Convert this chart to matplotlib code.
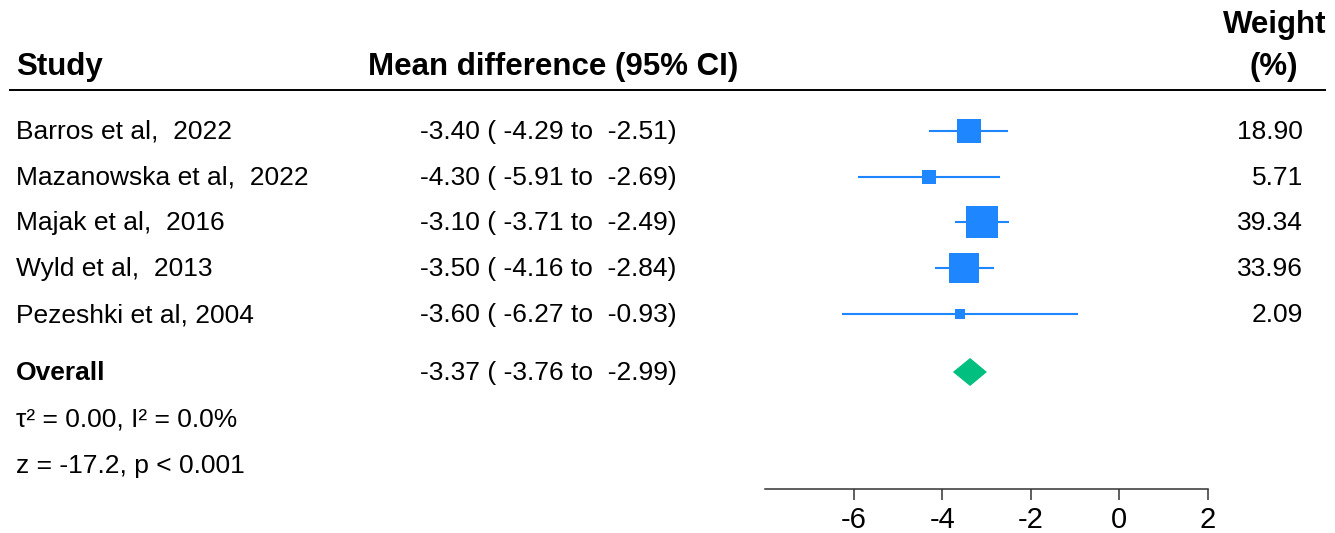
import numpy as np
import matplotlib
matplotlib.use("Agg")
import matplotlib.pyplot as plt
import matplotlib.transforms as mtransforms
from matplotlib.patches import Polygon

plt.rcParams['font.family'] = ['Liberation Sans', 'DejaVu Sans']

# study data
studies = ["Barros et al,  2022", "Mazanowska et al,  2022", "Majak et al,  2016",
           "Wyld et al,  2013", "Pezeshki et al, 2004"]
est = [-3.40, -4.30, -3.10, -3.50, -3.60]
lo = [-4.29, -5.91, -3.71, -4.16, -6.27]
hi = [-2.51, -2.69, -2.49, -2.84, -0.93]
weights = [18.90, 5.71, 39.34, 33.96, 2.09]

# pooled estimate
overall_est, overall_lo, overall_hi = -3.37, -3.76, -2.99
het_text = "τ² = 0.00, I² = 0.0%"
z_text = "z = -17.2, p < 0.001"
xticks = [-6, -4, -2, 0, 2]

W, H = 1335, 533
fig = plt.figure(figsize=(W / 100, H / 100), dpi=100)

# forest panel: x from -8 to 2 between px 765 and 1208, y rows
ax = fig.add_axes([765 / W, 1 - 489 / H, (1208 - 765) / W, (489 - 100) / H])
row_px = 45.75
ax.set_xlim(-8, 2)
ax.set_ylim((489 - 131) / row_px, (100 - 131) / row_px)

rows = np.arange(len(studies))
overall_row = (372 - 131) / row_px
het_row = (419 - 131) / row_px
z_row = (465 - 131) / row_px

blue = '#1E86FF'
green = '#00BF7F'

for r, e, l, h, w in zip(rows, est, lo, hi, weights):
    ax.plot([l, h], [r, r], color=blue, lw=1.5, solid_capstyle='butt')
    side_px = 3.4 + 4.56 * np.sqrt(w)
    ax.plot(e, r, marker='s', color=blue, markersize=side_px * 0.72, markeredgewidth=0)

dh = 14 / row_px
diamond = Polygon([[overall_lo, overall_row], [overall_est, overall_row - dh],
                   [overall_hi, overall_row], [overall_est, overall_row + dh]],
                  closed=True, facecolor=green, edgecolor='none')
ax.add_patch(diamond)

for s in ['top', 'right', 'left']:
    ax.spines[s].set_visible(False)
ax.spines['bottom'].set_color('#333333')
ax.spines['bottom'].set_linewidth(1.1)
ax.set_yticks([])
ax.set_xticks(xticks)
ax.set_xticklabels([str(t) for t in xticks])
ax.tick_params(axis='x', length=8, width=1.1, color='#333333', labelsize=21, pad=4)

# text columns (x in figure fraction, y in row units, baseline 8px below row centre)
trans = mtransforms.blended_transform_factory(fig.transFigure, ax.transData)
trans = trans + mtransforms.ScaledTranslation(0, -8 / 100, fig.dpi_scale_trans)
fs = 19
for r, name, e, l, h, w in zip(rows, studies, est, lo, hi, weights):
    fig.text(16 / W, r, name, transform=trans, fontsize=fs, va='baseline', ha='left')
    fig.text(420 / W, r, f"{e:.2f} ( {l:.2f} to  {h:.2f})", transform=trans,
             fontsize=fs, va='baseline', ha='left')
    fig.text(1303 / W, r, f"{w:.2f}", transform=trans, fontsize=fs, va='baseline', ha='right')

fig.text(16 / W, overall_row, "Overall", transform=trans, fontsize=fs,
         fontweight='bold', va='baseline', ha='left')
fig.text(420 / W, overall_row, f"{overall_est:.2f} ( {overall_lo:.2f} to  {overall_hi:.2f})",
         transform=trans, fontsize=fs, va='baseline', ha='left')
fig.text(16 / W, het_row, het_text, transform=trans, fontsize=fs, va='baseline', ha='left')
fig.text(16 / W, z_row, z_text, transform=trans, fontsize=fs, va='baseline', ha='left')

# headers
hfs = 22.5
fig.text(16 / W, 1 - 75 / H, "Study", fontsize=hfs, fontweight='bold', va='baseline', ha='left')
fig.text(553 / W, 1 - 75 / H, "Mean difference (95% CI)", fontsize=hfs, fontweight='bold',
         va='baseline', ha='center')
fig.text(1275 / W, 1 - 33 / H, "Weight", fontsize=hfs, fontweight='bold', va='baseline', ha='center')
fig.text(1274 / W, 1 - 75 / H, "(%)", fontsize=hfs, fontweight='bold', va='baseline', ha='center')

fig.add_artist(plt.Line2D([10 / W, 1325 / W], [1 - 90 / H, 1 - 90 / H],
                          transform=fig.transFigure, color='black', lw=1.4))

fig.savefig("out.png", dpi=100, facecolor='white')
